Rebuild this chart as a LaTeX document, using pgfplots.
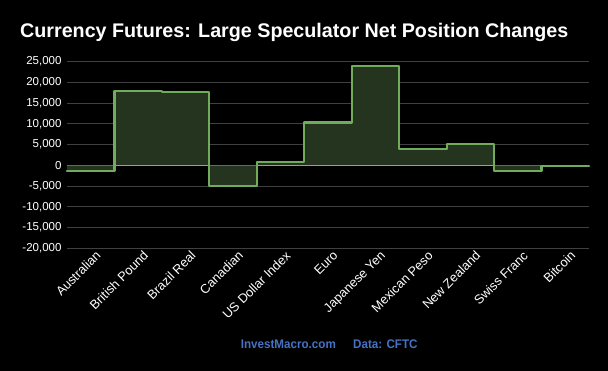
\documentclass[border=0pt]{standalone}
\usepackage{pgfplots}
\pgfplotsset{compat=1.18}
\usepackage{fontspec}
\setmainfont{Liberation Sans}
\newfontfamily\narrowbold[FakeStretch=0.93]{Liberation Sans Bold}
\definecolor{linegreen}{RGB}{112,172,92}
\definecolor{fillgreen}{RGB}{37,52,31}
\definecolor{gridgray}{RGB}{64,64,64}
\definecolor{footblue}{RGB}{70,114,196}
\begin{document}
\begin{tikzpicture}
\fill[black] (0,0) rectangle (608pt,371pt);
\useasboundingbox (0,0) rectangle (608pt,371pt);
\begin{axis}[
  at={(67pt,122.7pt)}, anchor=south west,
  scale only axis, width=522pt, height=186.6pt,
  xmin=0, xmax=11, ymin=-20000, ymax=25000,
  ytick={-20000,-15000,...,25000},
  xtick={0.5,1.5,...,10.5},
  xticklabels={Australian,British Pound,Brazil Real,Canadian,US Dollar Index,Euro,Japanese Yen,Mexican Peso,New Zealand,Swiss Franc,Bitcoin},
  x tick label style={rotate=45, anchor=north east, font=\fontsize{12.8}{14}\selectfont, text=white, inner sep=1pt, xshift=3pt, yshift=-3pt},
  y tick label style={font=\fontsize{11.5}{13}\selectfont, text=white},
  /pgf/number format/assume math mode=true,
  /pgf/number format/1000 sep={,},
  scaled y ticks=false,
  ymajorgrids, grid style={gridgray, line width=0.8pt},
  extra y ticks={0}, extra y tick labels={}, extra y tick style={grid style={white!85!black, line width=1pt}},
  axis line style={draw=none},
  major tick length=0pt,
  yticklabel style={xshift=-2pt},
  clip=false,
]
\addplot[const plot, fill=fillgreen, draw=none] coordinates {
(0,-1300) (1,17850) (2,17650) (3,-4900) (4,720) (5,10350) (6,23950) (7,3850) (8,5150) (9,-1300) (10,-250) (11,-250)
} \closedcycle;
\addplot[const plot, linegreen, line width=2.2pt, line join=round, line cap=round] coordinates {
(0,-1300) (1,17850) (2,17650) (3,-4900) (4,720) (5,10350) (6,23950) (7,3850) (8,5150) (9,-1300) (10,-250) (11,-250)
};
\end{axis}
\node[anchor=base west, text=white, font=\fontsize{19.7}{22}\selectfont\bfseries, inner sep=0pt] at (20pt,333.7pt) {Currency Futures: Large Speculator Net Position Changes};
\node[anchor=base west, text=footblue, font=\fontsize{12.5}{14}\narrowbold, inner sep=0pt] at (240.7pt,22pt) {InvestMacro.com};
\node[anchor=base west, text=footblue, font=\fontsize{12.5}{14}\narrowbold, inner sep=0pt] at (353pt,22pt) {Data: CFTC};
\end{tikzpicture}
\end{document}
